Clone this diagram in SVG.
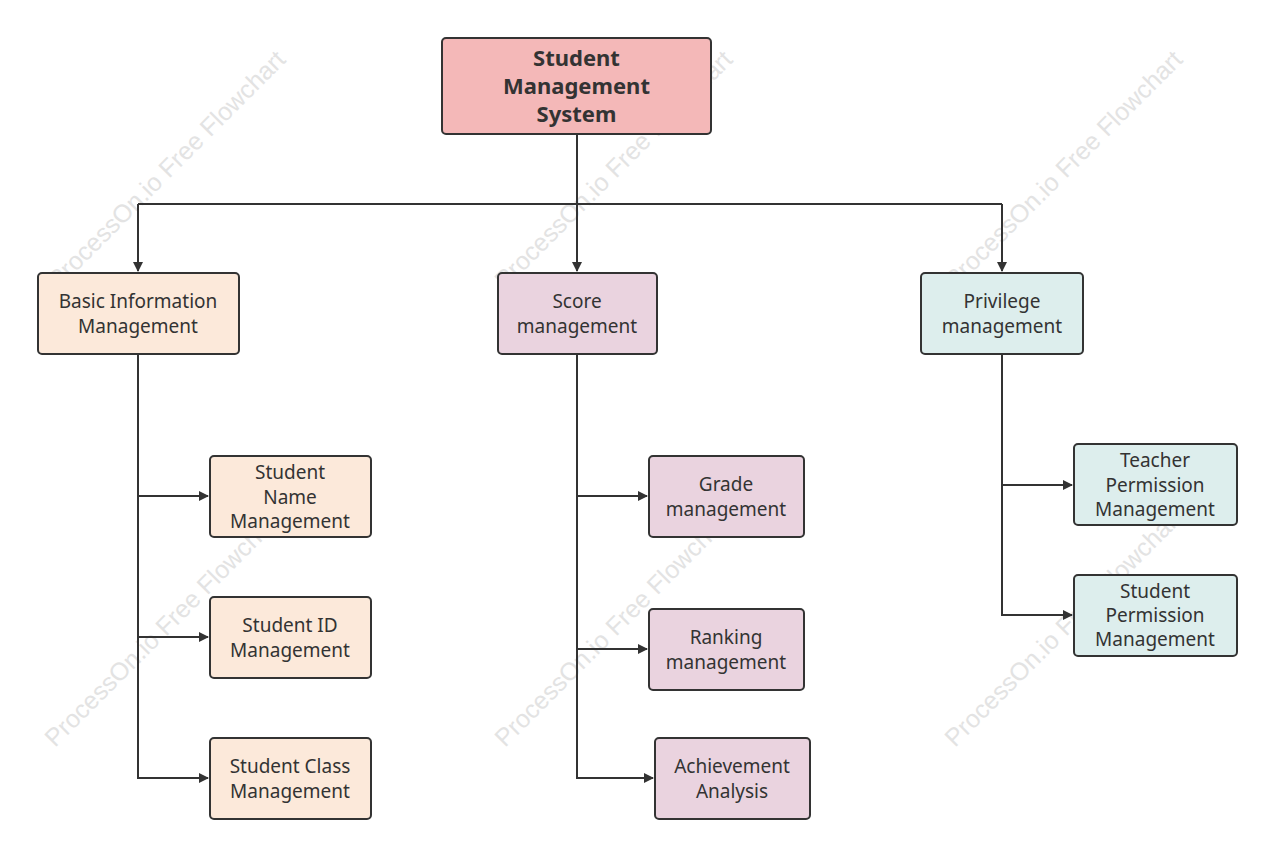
<svg xmlns="http://www.w3.org/2000/svg" width="1273" height="856" viewBox="0 0 1273 856">
<style>
.n rect{stroke:#333;stroke-width:2}
.t{font-family:"Noto Sans","Open Sans",sans-serif;font-size:19px;fill:#333;text-anchor:middle}
.b{font-weight:bold;font-size:22px}
.c path{fill:none;stroke:#333;stroke-width:2}
.w{font-family:"Liberation Sans",sans-serif;font-size:25px;fill:#e3e3e3}
</style>
<defs><marker id="a" markerWidth="10" markerHeight="10" refX="9" refY="5" orient="auto" markerUnits="userSpaceOnUse"><path d="M0,0L10,5L0,10Z" fill="#333"/></marker></defs>
<g>
<text class="w" transform="translate(58,290) rotate(-45)">ProcessOn.io Free Flowchart</text>
<text class="w" transform="translate(505,290) rotate(-45)">ProcessOn.io Free Flowchart</text>
<text class="w" transform="translate(955,290) rotate(-45)">ProcessOn.io Free Flowchart</text>
<text class="w" transform="translate(55,748) rotate(-45)">ProcessOn.io Free Flowchart</text>
<text class="w" transform="translate(505,748) rotate(-45)">ProcessOn.io Free Flowchart</text>
<text class="w" transform="translate(955,748) rotate(-45)">ProcessOn.io Free Flowchart</text>
</g>
<g class="c">
<path d="M577,134V204M138,204H1002"/>
<path d="M138,204V271" marker-end="url(#a)"/>
<path d="M577,204V271" marker-end="url(#a)"/>
<path d="M1002,204V271" marker-end="url(#a)"/>
<path d="M138,354V778H208" marker-end="url(#a)"/>
<path d="M138,496H208" marker-end="url(#a)"/>
<path d="M138,637H208" marker-end="url(#a)"/>
<path d="M577,354V778H653" marker-end="url(#a)"/>
<path d="M577,496H647" marker-end="url(#a)"/>
<path d="M577,649H647" marker-end="url(#a)"/>
<path d="M1002,354V615H1072" marker-end="url(#a)"/>
<path d="M1002,485H1072" marker-end="url(#a)"/>
</g>
<g id="root" class="n"><rect x="442" y="38" width="269" height="96" rx="4" fill="#f4b8b8"/><text class="t b" x="576.5" y="66">Student</text><text class="t b" x="576.5" y="94">Management</text><text class="t b" x="576.5" y="122">System</text></g>
<g id="basic" class="n"><rect x="38" y="273" width="201" height="81" rx="4" fill="#fce9da"/><text class="t" x="138" y="308">Basic Information</text><text class="t" x="138" y="333">Management</text></g>
<g id="score" class="n"><rect x="498" y="273" width="159" height="81" rx="4" fill="#ead3df"/><text class="t" x="577" y="308">Score</text><text class="t" x="577" y="333">management</text></g>
<g id="priv" class="n"><rect x="921" y="273" width="162" height="81" rx="4" fill="#ddeeed"/><text class="t" x="1002" y="308">Privilege</text><text class="t" x="1002" y="333">management</text></g>
<g id="sname" class="n"><rect x="210" y="456" width="161" height="81" rx="4" fill="#fce9da"/><text class="t" x="290" y="479">Student</text><text class="t" x="290" y="504">Name</text><text class="t" x="290" y="528">Management</text></g>
<g id="sid" class="n"><rect x="210" y="597" width="161" height="81" rx="4" fill="#fce9da"/><text class="t" x="290" y="632">Student ID</text><text class="t" x="290" y="657">Management</text></g>
<g id="sclass" class="n"><rect x="210" y="738" width="161" height="81" rx="4" fill="#fce9da"/><text class="t" x="290" y="773">Student Class</text><text class="t" x="290" y="798">Management</text></g>
<g id="grade" class="n"><rect x="649" y="456" width="155" height="81" rx="4" fill="#ead3df"/><text class="t" x="726" y="491">Grade</text><text class="t" x="726" y="516">management</text></g>
<g id="rank" class="n"><rect x="649" y="609" width="155" height="81" rx="4" fill="#ead3df"/><text class="t" x="726" y="644">Ranking</text><text class="t" x="726" y="669">management</text></g>
<g id="ach" class="n"><rect x="655" y="738" width="155" height="81" rx="4" fill="#ead3df"/><text class="t" x="732" y="773">Achievement</text><text class="t" x="732" y="798">Analysis</text></g>
<g id="teach" class="n"><rect x="1074" y="444" width="163" height="81" rx="4" fill="#ddeeed"/><text class="t" x="1155" y="467">Teacher</text><text class="t" x="1155" y="492">Permission</text><text class="t" x="1155" y="516">Management</text></g>
<g id="sperm" class="n"><rect x="1074" y="575" width="163" height="81" rx="4" fill="#ddeeed"/><text class="t" x="1155" y="598">Student</text><text class="t" x="1155" y="622">Permission</text><text class="t" x="1155" y="646">Management</text></g>
</svg>
